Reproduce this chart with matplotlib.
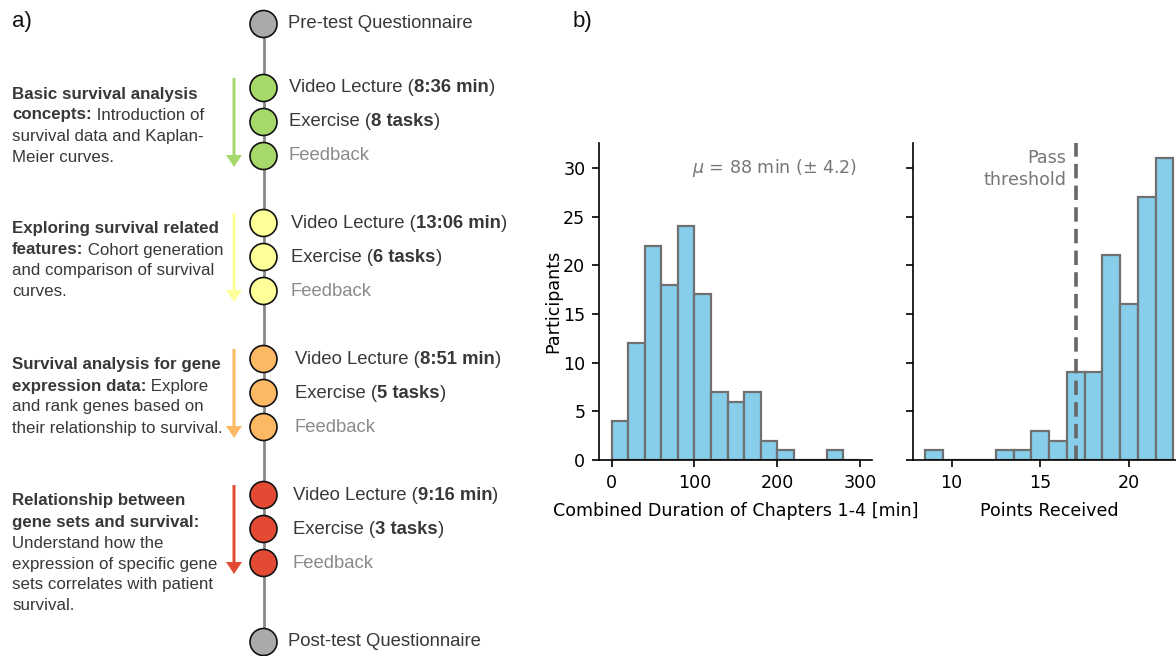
import matplotlib
matplotlib.use("Agg")
import matplotlib.pyplot as plt
from matplotlib.patches import Circle, FancyArrow

# ---------------- data ----------------
stage_colors = ["#a6d96a", "#ffff99", "#fdb863", "#e34a33"]
video_durations = ["8:36 min", "13:06 min", "8:51 min", "9:16 min"]
exercise_tasks = ["8 tasks", "6 tasks", "5 tasks", "3 tasks"]
pre_label = "Pre-test Questionnaire"
post_label = "Post-test Questionnaire"
feedback_label = "Feedback"

descriptions = [
    [[("Basic survival analysis", True)],
     [("concepts:", True), (" Introduction of", False)],
     [("survival data and Kaplan-", False)],
     [("Meier curves.", False)]],
    [[("Exploring survival related", True)],
     [("features:", True), (" Cohort generation", False)],
     [("and comparison of survival", False)],
     [("curves.", False)]],
    [[("Survival analysis for gene", True)],
     [("expression data:", True), (" Explore", False)],
     [("and rank genes based on", False)],
     [("their relationship to survival.", False)]],
    [[("Relationship between", True)],
     [("gene sets and survival:", True)],
     [("Understand how the", False)],
     [("expression of specific gene", False)],
     [("sets correlates with patient", False)],
     [("survival.", False)]],
]

duration_bin_edges = list(range(0, 301, 20))
duration_counts = [4, 12, 22, 18, 24, 17, 7, 6, 7, 2, 1, 0, 0, 1, 0]
duration_mean_text = r"$\mu$ = 88 min (± 4.2)"

points_bin_edges = [8.5 + i for i in range(15)]
points_counts = [1, 0, 0, 0, 1, 1, 3, 2, 9, 9, 21, 16, 27, 31]
pass_threshold = 17

# ---------------- figure ----------------
W, H = 1176, 656
fig = plt.figure(figsize=(W / 100, H / 100), dpi=100)
ax0 = fig.add_axes([0, 0, 1, 1])
ax0.set_xlim(0, W)
ax0.set_ylim(H, 0)
ax0.axis("off")
renderer = fig.canvas.get_renderer()

LF = "Liberation Sans"
dark = "#383838"
grey_txt = "#8a8a8a"

def seg_text(x, y, segs, size, color):
    for txt, bold in segs:
        t = ax0.text(x, y, txt, fontsize=size, family=LF,
                     fontweight="bold" if bold else "normal",
                     color=color, ha="left", va="center")
        bb = t.get_window_extent(renderer)
        x = bb.x1

# timeline
line_x = 263.5
pre_y, post_y = 24, 642
block_y0 = [88, 223, 359, 495]
step = 34
label_x = [289, 291, 295, 293]
r = 13.5

ax0.plot([line_x, line_x], [pre_y, post_y], color="#888888", lw=2, zorder=1)
for yy in (pre_y, post_y):
    ax0.add_patch(Circle((line_x, yy), r, facecolor="#aaaaaa", edgecolor="#111111", lw=1.2, zorder=3))
seg_text(288, pre_y, [(pre_label, False)], 13.3, dark)
seg_text(288, post_y, [(post_label, False)], 13.3, dark)

for i, col in enumerate(stage_colors):
    ys = [block_y0[i] + k * step for k in range(3)]
    for yy in ys:
        ax0.add_patch(Circle((line_x, yy), r, facecolor=col, edgecolor="#111111", lw=1.2, zorder=3))
    seg_text(label_x[i], ys[0], [("Video Lecture (", False), (video_durations[i], True), (")", False)], 13.3, dark)
    seg_text(label_x[i], ys[1], [("Exercise (", False), (exercise_tasks[i], True), (")", False)], 13.3, dark)
    seg_text(label_x[i], ys[2], [(feedback_label, False)], 13.3, grey_txt)
    # arrow
    a0 = ys[0] - 10
    a1 = ys[2] + 11
    ax0.add_patch(FancyArrow(234, a0, 0, a1 - a0, width=3, head_width=16, head_length=12,
                             length_includes_head=True, color=col, lw=0, zorder=2))
    # description
    for j, segs in enumerate(descriptions[i]):
        seg_text(12, block_y0[i] + 6 + j * 21, segs, 12.2, dark)

ax0.text(12, 22, "a)", fontsize=16, family=LF, color="#111111", va="center", ha="left")
ax0.text(573, 22, "b)", fontsize=16, family=LF, color="#111111", va="center", ha="left")

# ---------------- histograms ----------------
bar_fc = "#87ceeb"
bar_ec = "#707070"
axw = 273 / W
axb = (H - 460) / H
axh = 317 / H
ax1 = fig.add_axes([599.3 / W, axb, axw, axh])
ax2 = fig.add_axes([912.7 / W, axb, axw, axh], sharey=ax1)

ax1.hist(duration_bin_edges[:-1], bins=duration_bin_edges, weights=duration_counts,
         color=bar_fc, edgecolor=bar_ec, linewidth=1.6)
ax2.hist(points_bin_edges[:-1], bins=points_bin_edges, weights=points_counts,
         color=bar_fc, edgecolor=bar_ec, linewidth=1.6)

ax1.set_xlim(-15, 315)
ax1.set_ylim(0, 32.55)
ax2.set_xlim(7.8, 23.2)
ax1.set_xticks([0, 100, 200, 300])
ax2.set_xticks([10, 15, 20])
ax1.set_yticks([0, 5, 10, 15, 20, 25, 30])

FS = 12.6
for a in (ax1, ax2):
    a.spines["top"].set_visible(False)
    a.spines["right"].set_visible(False)
    for s in ("left", "bottom"):
        a.spines[s].set_linewidth(1.2)
    a.tick_params(labelsize=FS, length=5, width=1.2, pad=5)
ax2.tick_params(labelleft=False)

ax1.set_ylabel("Participants", fontsize=FS, labelpad=1)
ax1.set_xlabel("Combined Duration of Chapters 1-4 [min]", fontsize=FS, labelpad=7)
ax2.set_xlabel("Points Received", fontsize=FS, labelpad=7)

ax1.text(0.944, 0.922, duration_mean_text, transform=ax1.transAxes, fontsize=FS,
         color="#777777", ha="right", va="center")

ax2.axvline(pass_threshold, color="#666666", lw=2.6, ls=(0, (4, 2)))
ax2.text(pass_threshold - 0.55, 29.9, "Pass\nthreshold", fontsize=FS, color="#777777",
         ha="right", va="center", linespacing=1.3)

fig.savefig("out.png", dpi=100)
